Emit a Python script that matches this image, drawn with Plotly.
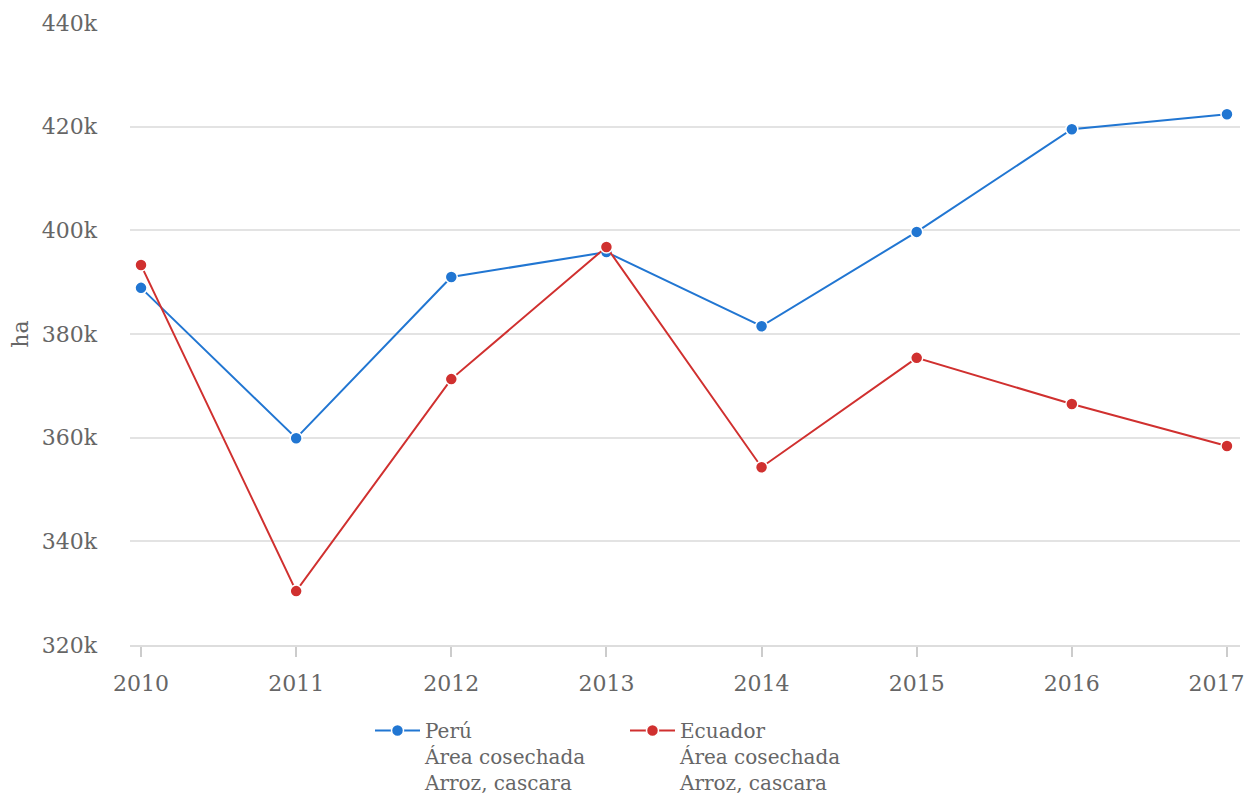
import plotly.graph_objects as go

years = [2010, 2011, 2012, 2013, 2014, 2015, 2016, 2017]
year_labels = ["2010", "2011", "2012", "2013", "2014", "2015", "2016", "2017\u00a0\u00a0\u00a0"]
peru = [388900, 359900, 391000, 395800, 381500, 399700, 419500, 422400]
ecuador = [393300, 330400, 371300, 396800, 354300, 375400, 366500, 358400]
names = ["Perú<br>Área cosechada<br>Arroz, cascara", "Ecuador<br>Área cosechada<br>Arroz, cascara"]
colors = ["#2176d2", "#d0302f"]
yticks = [320000, 340000, 360000, 380000, 400000, 420000, 440000]
ytick_text = ["320k", "340k", "360k", "380k", "400k", "420k", "440k"]

W, H = 1243, 792
font = "DejaVu Serif"
fig = go.Figure()
for vals, name, col in zip([peru, ecuador], names, colors):
    fig.add_trace(go.Scatter(
        x=years, y=vals, name=name, mode="lines+markers",
        line=dict(color=col, width=2),
        marker=dict(color=col, size=12, line=dict(color="white", width=1.5)),
    ))

fig.update_layout(
    width=W, height=H,
    margin=dict(l=122, r=11, t=15, b=155, autoexpand=False),
    paper_bgcolor="white", plot_bgcolor="white",
    font=dict(family=font, size=22, color="#666666"),
    showlegend=True,
    legend=dict(orientation="h", x=362 / W, xanchor="left", xref="container",
                y=89 / H, yanchor="top", yref="container",
                valign="top", font=dict(size=20, color="#666666"), traceorder="normal",
                itemwidth=45, entrywidth=195, entrywidthmode="pixels"),
    xaxis=dict(range=[2009.929, 2017.084], tickvals=years, ticktext=year_labels,
               showgrid=False, showline=True, linecolor="#dddddd", linewidth=2,
               ticks="outside", ticklen=10, tickcolor="#cccccc", tickwidth=1.5,
               ticklabelstandoff=8, automargin=False, ticklabeloverflow="allow",
               tickfont=dict(size=22, color="#666666"), zeroline=False),
    yaxis=dict(range=[320000, 440000], tickvals=yticks, ticktext=ytick_text,
               showgrid=True, gridcolor="#e3e3e3", gridwidth=1.5, zeroline=False,
               showline=False, ticks="", ticklabelstandoff=32, automargin=False,
               tickfont=dict(size=22, color="#666666"),
               title=dict(text="ha", font=dict(size=22, color="#666666"), standoff=6)),
)
fig.write_html("out.html")
